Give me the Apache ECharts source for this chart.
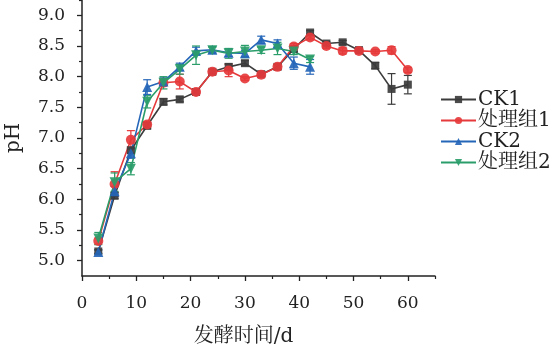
<!DOCTYPE html>
<html><head><meta charset="utf-8">
<script src="https://cdn.jsdelivr.net/npm/echarts@6/dist/echarts.min.js"></script>
<style>html,body{margin:0;padding:0;background:#fff}#c{width:554px;height:352px}</style>
</head><body><div id="c"></div>
<script>
const days = [3,6,9,12,15,18,21,24,27,30,33,36,39,42,45,48,51,54,57,60];
const ck1 = [5.15,6.06,6.80,7.20,7.59,7.63,7.75,8.08,8.16,8.22,8.04,8.16,8.45,8.72,8.54,8.56,8.43,8.18,7.80,7.87];
const ck1Err = [0.03,0.05,0.05,0.05,0.05,0.04,0.03,0.03,0.05,0.04,0.03,0.04,0.04,0.03,0.03,0.03,0.05,0.05,0.25,0.15];
const t1 = [5.32,6.25,6.97,7.22,7.90,7.92,7.75,8.08,8.10,7.97,8.03,8.16,8.49,8.64,8.50,8.42,8.42,8.41,8.43,8.11];
const t1Err = [0.05,0.2,0.15,0.05,0.05,0.12,0.03,0.04,0.1,0.03,0.03,0.04,0.05,0.04,0.04,0.05,0.04,0.03,0.06,0.04];
const ck2 = [5.14,6.13,6.75,7.83,7.92,8.16,8.42,8.44,8.39,8.38,8.60,8.54,8.22,8.16];
const ck2Err = [0.03,0.08,0.08,0.12,0.06,0.06,0.06,0.05,0.06,0.05,0.06,0.06,0.1,0.12];
const t2 = [5.36,6.28,6.50,7.59,7.90,8.12,8.35,8.43,8.38,8.41,8.43,8.46,8.41,8.28];
const t2Err = [0.1,0.15,0.1,0.1,0.1,0.08,0.15,0.05,0.08,0.1,0.05,0.1,0.05,0.05];
const names = ['CK1','处理组1','CK2','处理组2'];
const xMajor = [0,10,20,30,40,50,60];
const xMinor = [5,15,25,35,45,55,65];
const yMajor = [5.0,5.5,6.0,6.5,7.0,7.5,8.0,8.5,9.0];
const yMinor = [5.25,5.75,6.25,6.75,7.25,7.75,8.25,8.75,9.25];

const colors = ['#3c3c3c','#e6393b','#2566b8','#2a9d6a'];
const symbols = ['rect','circle','triangle','path://M0,0 L10,0 L5,9 Z'];
const symSizes = [8,10,10,10];
const FONT = '"DejaVu Serif","Noto Serif CJK SC","Noto Sans CJK SC",serif';

function pairs(ys){ return ys.map((v,i)=>[days[i],v]); }
function errData(ys,es){ return ys.map((v,i)=>[days[i],v-es[i],v+es[i]]); }
function errSeries(ys,es,color){
  return {type:'custom', xAxisIndex:0, yAxisIndex:0, silent:true, z:1,
    data: errData(ys,es),
    renderItem:function(params,api){
      const x=api.value(0);
      const lo=api.coord([x,api.value(1)]);
      const hi=api.coord([x,api.value(2)]);
      const w=4;
      const st={stroke:color,lineWidth:1.2};
      return {type:'group',children:[
        {type:'line',shape:{x1:lo[0],y1:lo[1],x2:hi[0],y2:hi[1]},style:st},
        {type:'line',shape:{x1:lo[0]-w,y1:lo[1],x2:lo[0]+w,y2:lo[1]},style:st},
        {type:'line',shape:{x1:hi[0]-w,y1:hi[1],x2:hi[0]+w,y2:hi[1]},style:st}
      ]};
    }};
}
const vals=[ck1,t1,ck2,t2], errs=[ck1Err,t1Err,ck2Err,t2Err];
const series=[];
vals.forEach((v,i)=>{ series.push(errSeries(v,errs[i],colors[i])); });
vals.forEach((v,i)=>{
  series.push({type:'line', name:names[i], data:pairs(v), xAxisIndex:0, yAxisIndex:0,
    symbol:symbols[i], symbolSize:symSizes[i], z:3,
    lineStyle:{color:colors[i],width:1.6}, itemStyle:{color:colors[i],opacity:0.92}});
});

const chart=echarts.init(document.getElementById('c'),null,{renderer:'canvas'});
chart.setOption({
  animation:false,
  backgroundColor:'#fff',
  grid:{left:82,right:119,top:0,bottom:76,containLabel:false,outerBoundsMode:'none'},
  legend:{orient:'vertical',left:435,top:84,itemWidth:35,itemHeight:9,itemGap:0,
    data:names, textStyle:{fontFamily:FONT,fontSize:20,lineHeight:21,color:'#222',padding:[0,0,0,-3]}},
  xAxis:[
    {type:'value',min:0,max:65,
     name:'发酵时间/d',nameLocation:'middle',nameGap:51,
     nameTextStyle:{fontFamily:FONT,fontSize:20,color:'#222',padding:[0,30,0,0]},
     axisLine:{onZero:false,lineStyle:{color:'#222',width:1.5}},
     axisTick:{customValues:xMajor,length:5,lineStyle:{color:'#222',width:1.3}},
     axisLabel:{customValues:xMajor,margin:19,fontFamily:FONT,fontSize:17,color:'#222'},
     splitLine:{show:false}},
    {type:'value',min:0,max:65,position:'bottom',
     axisLine:{show:false},
     axisTick:{customValues:xMinor,length:3,lineStyle:{color:'#222',width:1.2}},
     axisLabel:{show:false},splitLine:{show:false}}
  ],
  yAxis:[
    {type:'value',min:4.75,max:9.25,
     name:'pH',nameLocation:'middle',nameGap:58,nameRotate:90,
     nameTextStyle:{fontFamily:FONT,fontSize:20,color:'#222',padding:[0,0,0,0]},
     axisLine:{onZero:false,lineStyle:{color:'#222',width:1.5}},
     axisTick:{customValues:yMajor,length:5,lineStyle:{color:'#222',width:1.3}},
     axisLabel:{customValues:yMajor,margin:17,fontFamily:FONT,fontSize:17,color:'#222',
       formatter:v=>v.toFixed(1)},
     splitLine:{show:false}},
    {type:'value',min:4.75,max:9.25,position:'left',
     axisLine:{show:false},
     axisTick:{customValues:yMinor,length:3,lineStyle:{color:'#222',width:1.2}},
     axisLabel:{show:false},splitLine:{show:false}}
  ],
  series:series
});
</script></body></html>
